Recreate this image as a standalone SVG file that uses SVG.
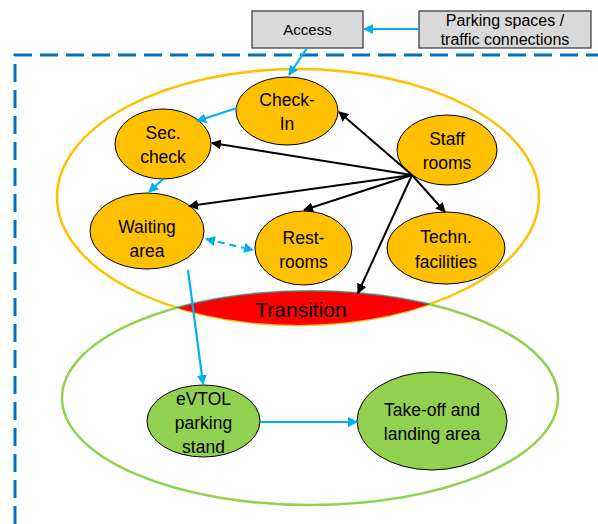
<svg xmlns="http://www.w3.org/2000/svg" width="598" height="524" viewBox="0 0 598 524">
<style>
.t{font-family:"Liberation Sans",Arial,sans-serif;font-size:17.5px;fill:#000;text-anchor:middle}
.box{fill:#d9d9d9;stroke:#333;stroke-width:1.2}
.on{fill:#ffc000;stroke:#000;stroke-width:1}
.gn{fill:#92d050;stroke:#000;stroke-width:1}
.bk{stroke:#000;stroke-width:2;fill:none;marker-end:url(#ab)}
.bl{stroke:#00b0f0;stroke-width:2.2;fill:none;marker-end:url(#ac)}
</style>
<defs>
<marker id="ab" viewBox="0 0 10 10" refX="9" refY="5" markerWidth="10" markerHeight="10" markerUnits="userSpaceOnUse" orient="auto"><path d="M0,0L10,5L0,10z" fill="#000"/></marker>
<marker id="ac" viewBox="0 0 10 10" refX="9" refY="5" markerWidth="10" markerHeight="10" markerUnits="userSpaceOnUse" orient="auto"><path d="M0,0L10,5L0,10z" fill="#00b0f0"/></marker>
<marker id="acs" viewBox="0 0 10 10" refX="1" refY="5" markerWidth="10" markerHeight="10" markerUnits="userSpaceOnUse" orient="auto"><path d="M10,0L0,5L10,10z" fill="#00b0f0"/></marker>
<clipPath id="oc"><ellipse cx="298" cy="197" rx="241" ry="128"/></clipPath>
</defs>
<rect width="598" height="524" fill="#fff"/>
<path d="M15,524V55H598" fill="none" stroke="#0070c0" stroke-width="3" stroke-dasharray="18,8"/>
<g id="terminal-zone"><ellipse cx="298" cy="197" rx="241" ry="128" fill="none" stroke="#ffc000" stroke-width="2.5"/></g>
<g id="airside-zone"><ellipse cx="310" cy="398" rx="248" ry="107" fill="none" stroke="#92d050" stroke-width="2.5"/></g>
<g id="transition">
<ellipse cx="310" cy="398" rx="248" ry="107" fill="#ff0000" stroke="#4472c4" stroke-width="1" clip-path="url(#oc)"/>
<text class="t" x="301" y="317" style="font-size:21px">Transition</text>
</g>
<g id="access"><rect class="box" x="252" y="11" width="111" height="37"/><text class="t" x="307.5" y="35" style="font-size:15px">Access</text></g>
<g id="parking"><rect class="box" x="419" y="11" width="172" height="37"/><text class="t" x="505" y="26" style="font-size:16px">Parking spaces /</text><text class="t" x="505" y="45" style="font-size:16px">traffic connections</text></g>
<g id="check-in"><ellipse class="on" cx="287" cy="111" rx="51" ry="34"/><text class="t" x="287" y="106">Check-</text><text class="t" x="287" y="130">In</text></g>
<g id="sec-check"><ellipse class="on" cx="163" cy="144" rx="48" ry="35"/><text class="t" x="163" y="139">Sec.</text><text class="t" x="163" y="163">check</text></g>
<g id="waiting-area"><ellipse class="on" cx="147" cy="231" rx="57" ry="38"/><text class="t" x="147" y="233">Waiting</text><text class="t" x="147" y="257">area</text></g>
<g id="restrooms"><ellipse class="on" cx="303.5" cy="248" rx="48.5" ry="37"/><text class="t" x="303.5" y="244">Rest-</text><text class="t" x="303.5" y="268">rooms</text></g>
<g id="staff-rooms"><ellipse class="on" cx="447" cy="150" rx="50" ry="35"/><text class="t" x="447" y="145">Staff</text><text class="t" x="447" y="169">rooms</text></g>
<g id="techn-facilities"><ellipse class="on" cx="446" cy="248" rx="59" ry="36"/><text class="t" x="446" y="243">Techn.</text><text class="t" x="446" y="268">facilities</text></g>
<g id="evtol-stand"><ellipse class="gn" cx="203.5" cy="421" rx="56.5" ry="36"/><text class="t" x="203.5" y="405">eVTOL</text><text class="t" x="203.5" y="429">parking</text><text class="t" x="203.5" y="453">stand</text></g>
<g id="takeoff"><ellipse class="gn" cx="432" cy="421" rx="75" ry="49"/><text class="t" x="432" y="416">Take-off and</text><text class="t" x="432" y="440">landing area</text></g>
<g id="connectors">
<path class="bl" d="M419,29H364"/>
<path class="bl" d="M307,48L289,75"/>
<path class="bl" d="M237,108L197,121"/>
<path class="bl" d="M163,179L149,192"/>
<path class="bl" d="M188,270L203,384"/>
<path class="bl" d="M260,422H357"/>
<path d="M206,239L253,250" stroke="#00b0f0" stroke-width="2.2" stroke-dasharray="7,5" fill="none" marker-start="url(#acs)" marker-end="url(#ac)"/>
<path class="bk" d="M412,175L339,112"/>
<path class="bk" d="M412,175L212,143"/>
<path class="bk" d="M412,175L189,206"/>
<path class="bk" d="M412,175L304,210"/>
<path class="bk" d="M412,175L445,212"/>
<path class="bk" d="M412,175L358,293"/>
</g>
</svg>
